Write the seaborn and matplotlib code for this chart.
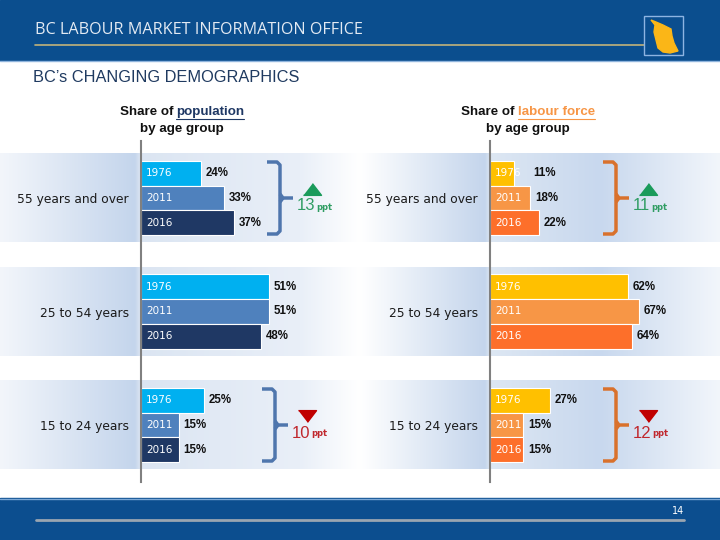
import numpy as np
import pandas as pd
import seaborn as sns
import matplotlib.pyplot as plt
from matplotlib.colors import to_rgb

# data (percent share)
groups = ['55 years and over', '25 to 54 years', '15 to 24 years']
years = ['1976', '2011', '2016']
pop_1976 = [24, 51, 25]
pop_2011 = [33, 51, 15]
pop_2016 = [37, 48, 15]
lf_1976 = [11, 62, 27]
lf_2011 = [18, 67, 15]
lf_2016 = [22, 64, 15]

pop_colors = ['#00b0f0', '#4f81bd', '#1f3864']
lf_colors = ['#ffc000', '#f79646', '#fd6f2a']

sns.set_style('white')
plt.rcParams['font.family'] = ['DejaVu Sans']

fig = plt.figure(figsize=(7.2, 5.4), dpi=100)
bg = fig.add_axes([0, 0, 1, 1])
bg.axis('off')


def hgrad(x0, x1, y0, y1, stops):
    xs = np.linspace(x0, x1, 500)
    sx = [s[0] for s in stops]
    cols = np.array([to_rgb(s[1]) for s in stops])
    img = np.stack([np.interp(xs, sx, cols[:, k]) for k in range(3)], axis=-1)[None, :, :]
    bg.imshow(img, extent=[x0, x1, y1, y0], aspect='auto', interpolation='bilinear', zorder=0)


# header / footer
bg.add_patch(plt.Rectangle((0, 0), 720, 60, color='#0b4e8e', zorder=1))
bg.plot([0, 720], [60.5, 60.5], color='#8fb4dc', lw=1, zorder=2)
bg.text(35, 30, 'BC LABOUR MARKET INFORMATION OFFICE', color='#e3eaf3', fontsize=11.6,
        family='Open Sans', va='center', ha='left', zorder=3)
bg.plot([35, 644], [45, 45], color='#c2b27a', lw=1.2, zorder=2)
bg.add_patch(plt.Rectangle((644, 16), 39, 39, fill=False, ec='#8db4e2', lw=1, zorder=3))
bc_shape = [(651, 20), (656, 22), (663, 25), (671, 29), (672, 36), (674, 43), (678, 51),
            (670, 53), (663, 52), (658, 48), (656, 40), (654, 32), (655, 25)]
bg.add_patch(plt.Polygon(bc_shape, color='#fbb617', zorder=3))

bg.add_patch(plt.Rectangle((0, 498), 720, 42, color='#0c4e8f', zorder=1))
bg.plot([0, 720], [498.5, 498.5], color='#7aa7d6', lw=1, zorder=2)
bg.plot([36, 684], [520, 520], color='#9aa5b1', lw=2, zorder=2)
bg.text(684, 511, '14', color='white', fontsize=7, ha='right', va='center', zorder=3)

bg.text(33, 78, 'BC\u2019s CHANGING DEMOGRAPHICS', color='#1f3a60', fontsize=11.8,
        family='Liberation Sans', va='center', ha='left')


def subtitle(xc, word, word_color):
    t1 = bg.text(0, 112, 'Share of', fontsize=9.6, family='Liberation Sans', weight='bold',
                 color='#111111', va='center', ha='left')
    t2 = bg.text(0, 112, word, fontsize=9.6, family='Liberation Sans', weight='bold',
                 color=word_color, va='center', ha='left')
    bg.text(xc, 129, 'by age group', fontsize=9.6, family='Liberation Sans', weight='bold',
            color='#111111', va='center', ha='center')
    fig.canvas.draw()
    r = fig.canvas.get_renderer()
    w1 = t1.get_window_extent(r).width
    w2 = t2.get_window_extent(r).width
    start = xc - (w1 + 3 + w2) / 2
    t1.set_x(start)
    t2.set_x(start + w1 + 3)
    bg.plot([start + w1 + 3, start + w1 + 3 + w2], [119, 119], color=word_color, lw=0.8)


bg.set_xlim(0, 720)
bg.set_ylim(540, 0)
subtitle(182, 'population', '#1f3864')
subtitle(528, 'labour force', '#f79646')


def panel(left_px, right_px, scale, series, colors, band_stops, bracket_x, bracket_color):
    ax = fig.add_axes([left_px / 720, (540 - 481.75) / 540, (right_px - left_px) / 720, 340.5 / 540])
    ax.patch.set_alpha(0)
    df = pd.DataFrame({'group': [g for s in series for g in groups],
                       'year': [y for y in years for g in groups],
                       'share': [v for s in series for v in s]})
    sns.barplot(data=df, y='group', x='share', hue='year', order=groups, hue_order=years,
                palette=colors, saturation=1, orient='h', width=0.66, edgecolor='white',
                linewidth=0.8, legend=False, errorbar=None, ax=ax)
    ax.set_xlim(0, (right_px - left_px) / scale)
    ax.set_ylim(2.5, -0.5)
    ax.set_xlabel('')
    ax.set_ylabel('')
    ax.set_xticks([])
    for s in ['top', 'right', 'bottom']:
        ax.spines[s].set_visible(False)
    ax.spines['left'].set_color('#808080')
    ax.spines['left'].set_linewidth(1.5)
    ax.set_yticks([0.5, 1.5, 2.5], minor=True)
    ax.tick_params(axis='y', which='major', length=0, pad=8.6, labelsize=8.8, labelcolor='#1a1a1a')
    ax.tick_params(axis='y', which='minor', length=4, width=1.5, color='#808080', direction='out')

    # year and value labels
    for year, cont in zip(years, ax.containers):
        for bar in cont:
            w = bar.get_width()
            yc = bar.get_y() + bar.get_height() / 2
            ax.annotate(year, (0, yc), xytext=(3.6, 0), textcoords='offset points',
                        color='white', fontsize=7.5, va='center', ha='left', annotation_clip=False)
            x_lab = w if w * scale > 27 else 38 / scale
            ax.annotate(f'{w:.0f}%', (x_lab, yc), xytext=(3.6, 0), textcoords='offset points',
                        color='#111111', fontsize=8.3, family='Liberation Sans', weight='bold',
                        va='center', ha='left', annotation_clip=False)

    # background bands, brackets and change markers in pixel space
    for i in range(len(groups)):
        cy = 540 - ax.transData.transform((0, i))[1]
        hgrad(band_stops[0][0], band_stops[-1][0], cy - 44.5, cy + 44.5, band_stops)
    for i, xv in zip([0, 2], bracket_x):
        cy = 540 - ax.transData.transform((0, i))[1]
        top, bot = cy - 36, cy + 36
        kw = dict(color=bracket_color, lw=2.5, solid_capstyle='butt', solid_joinstyle='round', zorder=4)
        bg.plot([xv - 13, xv - 3, xv, xv, xv - 3, xv - 13], [top, top, top + 3, bot - 3, bot, bot], **kw)
        bg.plot([xv, xv + 3, xv + 13], [cy - 4, cy, cy], **kw)
        bg.plot([xv, xv + 3], [cy + 4, cy], **kw)
        change = series[2][i] - series[0][i]
        if change >= 0:
            tri = [(-1, -0.65), (1, -0.65), (0, 0.65)]
            tri_c, txt_c = '#1a9b5b', '#2f9d63'
        else:
            tri = [(-1, 0.65), (1, 0.65), (0, -0.65)]
            tri_c, txt_c = '#c00000', '#c0272d'
        bg.plot([xv + 32], [cy - 9], marker=tri, markersize=13, color=tri_c, ls='none', zorder=4)
        t = bg.text(xv + 17, cy + 8, f'{abs(change)}', color=txt_c, fontsize=12,
                    family='Liberation Sans', va='center', ha='left', zorder=4)
        fig.canvas.draw()
        ext = t.get_window_extent(fig.canvas.get_renderer())
        bg.text(ext.x1 + 0.5, cy + 9, 'ppt', color=txt_c, fontsize=6, weight='bold',
                va='center', ha='left', zorder=4)
    return ax


panel(141, 360, 2.5, [pop_1976, pop_2011, pop_2016], pop_colors,
      [(0, '#f3f6fb'), (135, '#c4d5ec'), (140, '#dbe5f2'), (300, '#e9eff8'), (360, '#ffffff')],
      [280, 275], '#4f76ad')
panel(490, 720, 2.22, [lf_1976, lf_2011, lf_2016], lf_colors,
      [(360, '#ffffff'), (485, '#c4d5ec'), (490, '#dde7f3'), (600, '#c8d8ee'), (720, '#f2f6fb')],
      [616, 616], '#d9712c')

bg.set_xlim(0, 720)
bg.set_ylim(540, 0)

plt.savefig('out.png', dpi=100)
